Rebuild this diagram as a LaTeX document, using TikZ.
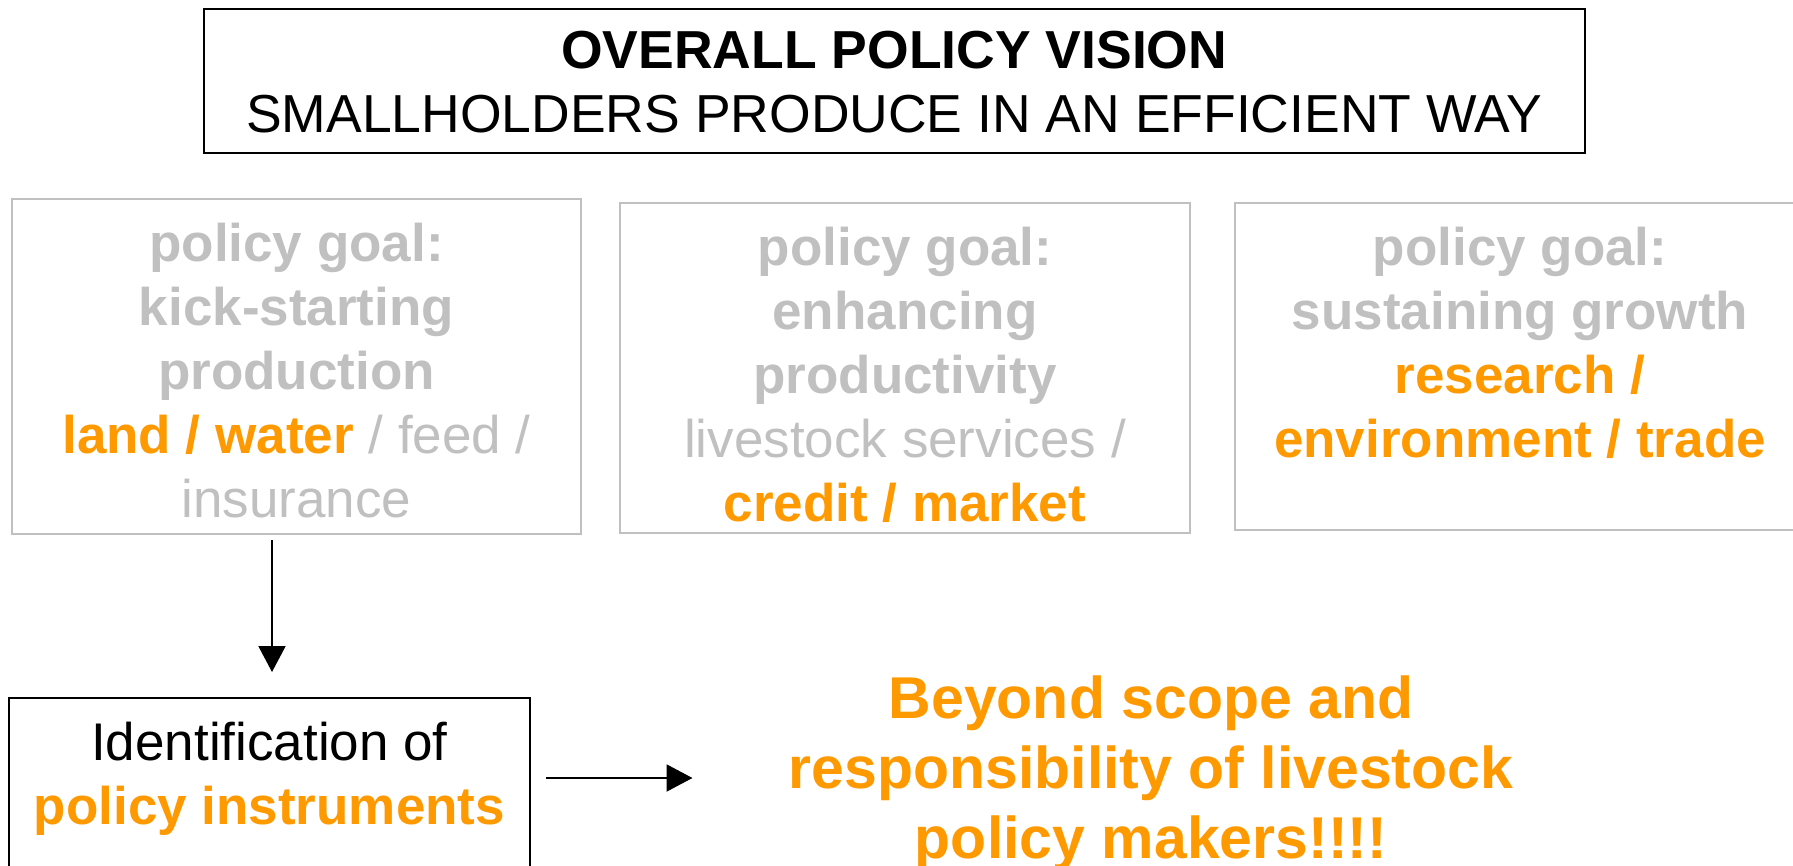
\documentclass[tikz,border=0pt]{standalone}
\usepackage{fontspec}
\setmainfont{Liberation Sans}
\usetikzlibrary{arrows.meta}
\definecolor{lgray}{HTML}{C0C0C0}
\definecolor{orng}{HTML}{FF9900}
\begin{document}
\begin{tikzpicture}[x=1pt,y=-1pt,
  box/.style={draw, line width=2pt, inner sep=0pt, rectangle},
  goalbox/.style={box, draw=lgray},
  blackbox/.style={box, draw=black},
  txt/.style={align=center, inner sep=0pt, anchor=north},
  gtxt/.style={txt, font=\fontsize{53}{64}\selectfont, text=lgray},
  arr/.style={line width=2pt, -{Triangle[length=26pt,width=27pt]}}]
\useasboundingbox (0,0) rectangle (1793,866);
\fill[white] (0,0) rectangle (1793,866);
\clip (0,0) rectangle (1793,866);

% top vision box
\node[blackbox, minimum width=1381.5pt, minimum height=144pt] (top) at (894.25,81) {};
\node[txt, font=\fontsize{53.5}{64}\selectfont] (t0) at ([yshift=-23pt]top.north)
  {\textbf{OVERALL POLICY VISION}\\SMALLHOLDERS PRODUCE IN AN EFFICIENT WAY};

% goal boxes
\node[goalbox, minimum width=569pt, minimum height=335pt] (g1) at (296.5,366.5) {};
\node[goalbox, minimum width=570pt, minimum height=330pt] (g2) at (905,368) {};
\node[goalbox, minimum width=570pt, minimum height=327pt] (g3) at (1520,366.5) {};

\node[gtxt] (t1) at ([yshift=-25pt]g1.north)
  {\textbf{policy goal:}\\\textbf{kick-starting}\\\textbf{production}\\\textcolor{orng}{\textbf{land / water}} / feed /\\insurance};
\node[gtxt] (t2) at ([yshift=-25pt]g2.north)
  {\textbf{policy goal:}\\\textbf{enhancing}\\\textbf{productivity}\\livestock services /\\\textcolor{orng}{\textbf{credit / market}}};
\node[gtxt] (t3) at ([yshift=-25pt]g3.north)
  {\textbf{policy goal:}\\\textbf{sustaining growth}\\\textcolor{orng}{\textbf{research /}}\\\textcolor{orng}{\textbf{environment / trade}}};

% instruments box
\node[blackbox, minimum width=521pt, minimum height=202pt] (inst) at (269.5,799) {};
\node[txt, font=\fontsize{53}{64}\selectfont] (it) at ([yshift=-25pt]inst.north)
  {Identification of\\\textcolor{orng}{\textbf{policy instruments}}};

% beyond text
\node[txt, text=orng, font=\fontsize{59}{70}\selectfont\bfseries] (beyond) at (1151,676)
  {Beyond scope and\\responsibility of livestock\\policy makers!!!!};

% arrows
\draw[arr, shorten <=5pt, shorten >=25pt] ([xshift=2.5pt]inst.north |- g1.south) -- ([xshift=2.5pt]inst.north);
\draw[arr, shorten >=96pt] ([xshift=15pt,yshift=21pt]inst.east) -- ([yshift=21pt]inst.east -| beyond.west);
\end{tikzpicture}
\end{document}
